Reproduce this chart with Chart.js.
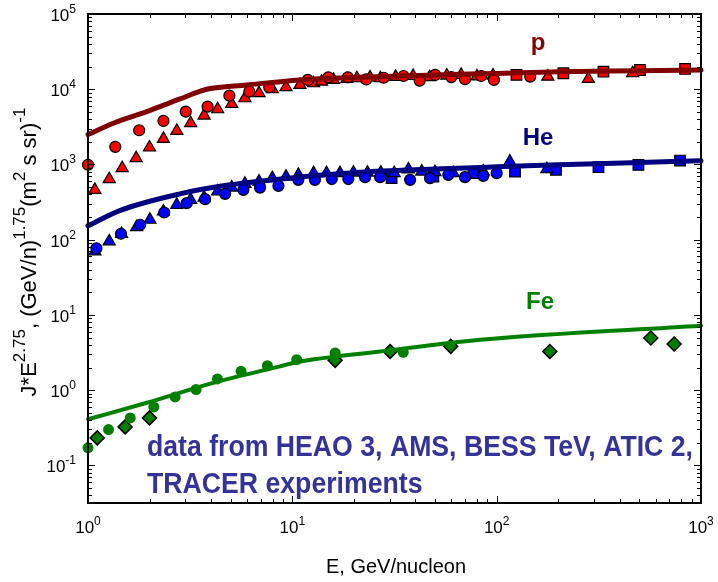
<!DOCTYPE html>
<html>
<head>
<meta charset="utf-8">
<script src="https://cdn.jsdelivr.net/npm/chart.js@4.4.1/dist/chart.umd.min.js"></script>
<style>
  body { margin: 0; background: #fff; }
  #wrap { width: 718px; height: 582px; }
</style>
</head>
<body>
<div id="wrap"><canvas id="spectra"></canvas></div>
<script>
// protones
const pCircE = [1.0, 1.36, 1.78, 2.34, 3.01, 3.85, 4.92, 6.16, 7.71, 11.9, 15.0, 18.7, 23, 28, 35, 42, 50, 60, 70, 84, 97, 146];
const pCircJ = [990, 1715, 2850, 3790, 5040, 5870, 8220, 9290, 10640, 13300, 14400, 14400, 13500, 14200, 15000, 13000, 15500, 14500, 13600, 15000, 13300, 14700];
const pTriE = [1.08, 1.27, 1.47, 1.72, 2.0, 2.34, 2.72, 3.18, 3.70, 4.31, 5.05, 5.86, 6.87, 7.98, 9.31, 10.9, 12.7, 13.9, 15.9, 18.5, 20.7, 24, 27, 32, 39, 47, 57, 67, 80, 96, 178, 281, 463];
const pTriJ = [460, 638, 893, 1213, 1680, 2188, 2795, 3535, 4470, 5420, 6380, 7590, 8850, 10000, 10640, 11400, 12000, 12600, 13300, 13700, 14000, 14300, 14000, 14600, 15000, 14500, 15200, 15500, 14800, 15200, 14700, 13700, 16300];
const pSqE = [125, 212, 333, 503, 836];
const pSqJ = [15500, 16300, 17100, 18000, 18600];
const pLineE = [1, 1.33, 1.94, 2.82, 3.81, 6, 10.9, 21.4, 50, 100, 204, 500, 1000];
const pLineJ = [2500, 3530, 5040, 7430, 10000, 11400, 13300, 14400, 15500, 16200, 17100, 17600, 18000];

// helio
const heCircE = [1.10, 1.45, 1.80, 2.36, 3.04, 3.74, 4.69, 5.76, 6.95, 8.55, 10.7, 12.9, 15.6, 18.8, 22.7, 26.9, 37.7, 47.2, 58, 70, 86, 100];
const heCircJ = [77, 120, 158, 230, 306, 346, 407, 460, 493, 520, 624, 624, 640, 640, 678, 678, 624, 658, 728, 678, 706, 766];
const heTriE = [1.08, 1.27, 1.46, 1.73, 2.01, 2.34, 2.72, 3.18, 3.70, 4.31, 5.05, 5.86, 6.87, 7.98, 9.31, 10.7, 12.7, 14.7, 17.1, 19.9, 23.3, 27.1, 31.5, 37, 43, 49.9, 61.3, 86, 116, 176];
const heTriJ = [70, 95, 119, 147, 184, 237, 291, 339, 363, 437, 493, 553, 593, 658, 690, 728, 766, 766, 766, 780, 780, 780, 766, 860, 805, 790, 766, 805, 1094, 866];
const heSqE = [30.6, 49, 77, 123, 195, 315, 494, 790];
const heSqJ = [658, 690, 766, 805, 848, 920, 988, 1127];
const heLineE = [1, 1.43, 2.82, 4.95, 10.9, 21.4, 50, 100, 200, 500, 1000];
const heLineJ = [153, 244, 407, 536, 680, 790, 870, 930, 990, 1060, 1120];

// hierro
const feCircE = [1.0, 1.26, 1.61, 2.10, 2.67, 3.38, 4.30, 5.61, 7.55, 10.5, 16.2, 34.9];
const feCircJ = [0.171, 0.299, 0.428, 0.598, 0.812, 1.02, 1.41, 1.78, 2.11, 2.54, 3.12, 3.18];
const feDiaE = [1.11, 1.52, 2.0, 16.2, 30.1, 59.6, 182, 568, 739];
const feDiaJ = [0.232, 0.325, 0.428, 2.49, 3.27, 3.82, 3.27, 4.93, 4.11];
const feLineE = [1, 1.94, 4.1, 8.7, 10.5, 26.9, 83, 1000];
const feLineJ = [0.41, 0.68, 1.25, 2.07, 2.35, 3.27, 4.69, 7.2];

// ejes
const xTickVals = [1, 10, 100, 1000];
const xTickExps = ['0', '1', '2', '3'];
const yTickVals = [0.1, 1, 10, 100, 1000, 10000, 100000];
const yTickExps = ['-1', '0', '1', '2', '3', '4', '5'];

const pts = (xs, ys) => xs.map((x, i) => ({ x: x, y: ys[i] }));

function marks(label, xs, ys, style, fill, radius, border) {
    return {
        type: 'scatter', label: label, data: pts(xs, ys), order: 2, clip: false,
        pointStyle: style, pointRadius: radius, pointBackgroundColor: fill,
        pointBorderColor: '#000', pointBorderWidth: border
    };
}
function curve(label, xs, ys, color, width) {
    return {
        type: 'line', label: label, data: pts(xs, ys), order: 0, clip: false,
        borderColor: color, borderWidth: width, pointRadius: 0, fill: false,
        cubicInterpolationMode: 'monotone', borderCapStyle: 'round'
    };
}

const font = 'Liberation Sans, Arial, sans-serif';

const decor = {
    id: 'decor',
    afterDraw(chart) {
        const ctx = chart.ctx;
        const a = chart.chartArea;
        const xs = chart.scales.x, ys = chart.scales.y;
        ctx.save();
        ctx.strokeStyle = '#000';
        // ticks hacia dentro
        ctx.lineWidth = 1;
        ctx.beginPath();
        for (let d = 1; d <= 100; d *= 10) {
            for (let k = 1; k <= 10; k++) {
                const v = d * k;
                const px = Math.round(xs.getPixelForValue(v)) + 0.5;
                const len = (k === 1 || k === 10) ? 7 : 4;
                ctx.moveTo(px, a.bottom); ctx.lineTo(px, a.bottom - len);
                ctx.moveTo(px, a.top); ctx.lineTo(px, a.top + len);
            }
        }
        for (let d = 0.01; d <= 10000; d *= 10) {
            for (let k = 1; k <= 10; k++) {
                const v = d * k;
                if (v < ys.min || v > ys.max * 1.0001) continue;
                const py = Math.round(ys.getPixelForValue(v)) + 0.5;
                const len = (k === 1 || k === 10) ? 7 : 4;
                ctx.moveTo(a.left, py); ctx.lineTo(a.left + len, py);
                ctx.moveTo(a.right, py); ctx.lineTo(a.right - len, py);
            }
        }
        ctx.stroke();
        // marco
        ctx.lineWidth = 2;
        ctx.strokeRect(a.left, a.top, a.right - a.left, a.bottom - a.top);

        // etiquetas de los ticks
        ctx.fillStyle = '#000';
        ctx.textBaseline = 'alphabetic';
        xTickVals.forEach((v, i) => {
            const px = xs.getPixelForValue(v);
            ctx.font = '17px ' + font;
            const w1 = ctx.measureText('10').width;
            ctx.font = '12px ' + font;
            const w2 = ctx.measureText(xTickExps[i]).width;
            const x0 = px - (w1 + w2) / 2;
            ctx.textAlign = 'left';
            ctx.font = '17px ' + font;
            ctx.fillText('10', x0, a.bottom + 30);
            ctx.font = '12px ' + font;
            ctx.fillText(xTickExps[i], x0 + w1, a.bottom + 22);
        });
        yTickVals.forEach((v, i) => {
            const py = ys.getPixelForValue(v);
            ctx.font = '12px ' + font;
            const w2 = ctx.measureText(yTickExps[i]).width;
            const xr = a.left - 12;
            ctx.textAlign = 'right';
            ctx.fillText(yTickExps[i], xr, py - 1);
            ctx.font = '17px ' + font;
            ctx.fillText('10', xr - w2, py + 7);
        });

        // titulo eje x
        ctx.textAlign = 'center';
        ctx.font = '20px ' + font;
        ctx.fillText('E, GeV/nucleon', 396, 573);

        // titulo eje y con superindices
        const parts = [['J*E', 0], ['2.75', 1], [', (GeV/n)', 0], ['1.75', 1], ['(m', 0], ['2', 1], [' s sr)', 0], ['-1', 1]];
        const fMain = '22px ' + font, fSup = '17px ' + font;
        let total = 0;
        parts.forEach(p => { ctx.font = p[1] ? fSup : fMain; total += ctx.measureText(p[0]).width; });
        ctx.translate(36, 252);
        ctx.rotate(-Math.PI / 2);
        ctx.textAlign = 'left';
        let cx = -total / 2;
        parts.forEach(p => {
            ctx.font = p[1] ? fSup : fMain;
            ctx.fillText(p[0], cx, p[1] ? -11 : 0);
            cx += ctx.measureText(p[0]).width;
        });
        ctx.setTransform(1, 0, 0, 1, 0, 0);

        // nombres de las especies
        ctx.textAlign = 'center';
        ctx.font = 'bold 24px ' + font;
        ctx.fillStyle = '#8b0000';
        ctx.fillText('p', 538, 50);
        ctx.fillStyle = '#000080';
        ctx.fillText('He', 538, 145);
        ctx.fillStyle = '#008000';
        ctx.fillText('Fe', 540, 309);

        // nota de los experimentos
        const l1 = 'data from HEAO 3, AMS, BESS TeV, ATIC 2,';
        const l2 = 'TRACER experiments';
        ctx.font = 'bold 29px ' + font;
        const sx = 546 / ctx.measureText(l1).width;
        ctx.fillStyle = '#333399';
        ctx.textAlign = 'left';
        ctx.translate(147, 0);
        ctx.scale(sx, 1);
        ctx.fillText(l1, 0, 456);
        ctx.fillText(l2, 0, 493);
        ctx.restore();
    }
};

new Chart(document.getElementById('spectra'), {
    data: {
        datasets: [
            curve('p fit', pLineE, pLineJ, '#800000', 5),
            curve('He fit', heLineE, heLineJ, '#000080', 5),
            curve('Fe fit', feLineE, feLineJ, '#008000', 4),
            marks('p circ', pCircE, pCircJ, 'circle', '#ff0000', 5.5, 1.2),
            marks('p tri', pTriE, pTriJ, 'triangle', '#ff0000', 7, 1.2),
            marks('p sq', pSqE, pSqJ, 'rect', '#ff0000', 7.5, 1.2),
            marks('He circ', heCircE, heCircJ, 'circle', '#0000ff', 5.5, 1.2),
            marks('He tri', heTriE, heTriJ, 'triangle', '#0000ff', 7, 1.2),
            marks('He sq', heSqE, heSqJ, 'rect', '#0000ff', 7.5, 1.2),
            marks('Fe circ', feCircE, feCircJ, 'circle', '#008000', 5.5, 0),
            marks('Fe dia', feDiaE, feDiaJ, 'rectRot', '#008000', 7, 1.5)
        ]
    },
    options: {
        responsive: true,
        maintainAspectRatio: false,
        animation: false,
        devicePixelRatio: 1,
        layout: { autoPadding: false, padding: { left: 88, top: 14, right: 17, bottom: 79 } },
        plugins: { legend: { display: false }, tooltip: { enabled: false } },
        scales: {
            x: { type: 'logarithmic', min: 1, max: 1000, display: false },
            y: { type: 'logarithmic', min: Math.pow(10, -1.5), max: 100000, display: false }
        }
    },
    plugins: [decor]
});
</script>
</body>
</html>
